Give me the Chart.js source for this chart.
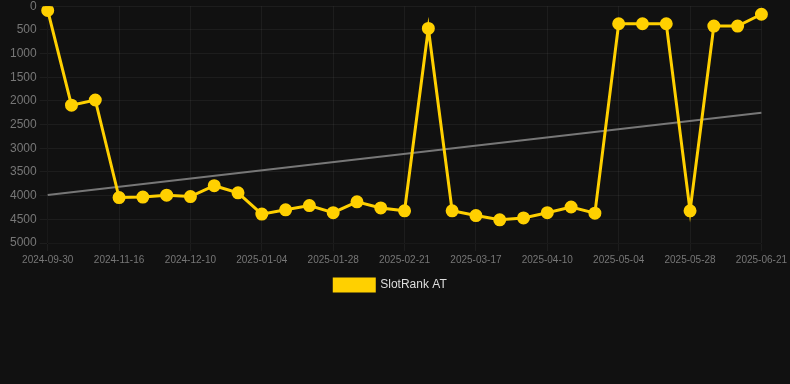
<!DOCTYPE html>
<html lang="en">
<head>
  <meta charset="UTF-8">
  <title>SlotRank AT</title>
  <style>
    body {
      margin: 0;
      padding: 0;
      background-color: #111111;
      font-family: Arial, sans-serif;
      overflow: hidden;
    }
    .chart-container {
      width: 790px;
      height: 305px;
      margin-top: -4px;
      position: relative;
    }
  </style>
</head>
<body>
  <div class="chart-container">
    <canvas id="rankChart"></canvas>
  </div>

  <script src="https://cdn.jsdelivr.net/npm/chart.js"></script>
  <script>
    const dates = [
      '2024-09-30', '2024-10-16', '2024-11-01', '2024-11-16', '2024-11-24', '2024-12-02',
      '2024-12-10', '2024-12-18', '2024-12-26', '2025-01-04', '2025-01-12', '2025-01-20',
      '2025-01-28', '2025-02-05', '2025-02-13', '2025-02-21', '2025-03-01', '2025-03-09',
      '2025-03-17', '2025-03-25', '2025-04-02', '2025-04-10', '2025-04-18', '2025-04-26',
      '2025-05-04', '2025-05-12', '2025-05-20', '2025-05-28', '2025-06-05', '2025-06-13',
      '2025-06-21'
    ];
    const rank = [
      90, 2090, 1980, 4040, 4030, 3990, 4020, 3790, 3940, 4390, 4300,
      4210, 4360, 4130, 4260, 4320, 470, 4320, 4420, 4510, 4470, 4360,
      4240, 4370, 370, 370, 370, 4320, 420, 420, 170
    ];
    // trend line: only the two ends, joined across the gaps
    const trend = dates.map(() => null);
    trend[0] = 3985;
    trend[trend.length - 1] = 2250;

    const ctx = document.getElementById('rankChart').getContext('2d');
    new Chart(ctx, {
      type: 'line',
      data: {
        labels: dates,
        datasets: [{
          label: 'SlotRank AT',
          data: rank,
          borderColor: '#FFD000',
          backgroundColor: '#FFD000',
          borderWidth: 3,
          pointRadius: 5,
          pointBackgroundColor: '#FFD000',
          pointBorderColor: '#FFD000',
          tension: 0
        }, {
          label: 'Trend',
          data: trend,
          spanGaps: true,
          borderColor: '#777777',
          borderWidth: 2,
          pointRadius: 0,
          tension: 0
        }]
      },
      options: {
        responsive: true,
        maintainAspectRatio: false,
        animation: false,
        layout: { padding: { top: 0, right: 16, left: 7 } },
        scales: {
          x: {
            grid: { color: 'rgba(255,255,255,0.05)' },
            ticks: {
              color: '#777777',
              font: { size: 10 },
              maxRotation: 0,
              autoSkip: true,
              maxTicksLimit: 11
            }
          },
          y: {
            reverse: true,
            min: 0,
            max: 5000,
            grid: { color: 'rgba(255,255,255,0.05)' },
            ticks: {
              color: '#777777',
              font: { size: 12 },
              stepSize: 500,
              callback: v => String(v)
            }
          }
        },
        plugins: {
          legend: {
            display: true,
            position: 'bottom',
            labels: {
              color: '#dddddd',
              font: { size: 12 },
              filter: item => item.text !== 'Trend'
            }
          },
          tooltip: { enabled: false }
        }
      }
    });
  </script>
</body>
</html>
